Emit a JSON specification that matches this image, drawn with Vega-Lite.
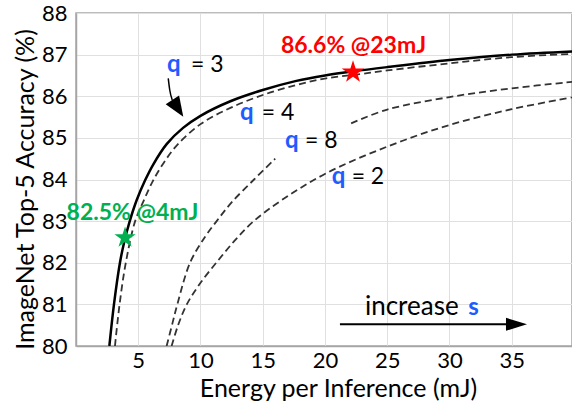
{
  "$schema": "https://vega.github.io/schema/vega-lite/v6.json",
  "width": 496,
  "height": 333,
  "autosize": {"type": "none"},
  "padding": {"left": 76, "top": 13, "right": 0, "bottom": 61},
  "background": "white",
  "config": {
    "font": "Lato",
    "view": {"stroke": "#a6a6a6", "strokeWidth": 1.5},
    "axis": {
      "labelFont": "Lato", "titleFont": "Lato", "labelColor": "#000", "titleColor": "#000",
      "gridColor": "#e0e0e0", "gridWidth": 1, "domainColor": "#a6a6a6", "domainWidth": 1.5,
      "ticks": false, "labelFontSize": 22, "titleFontSize": 25, "titleFontWeight": "normal"
    }
  },
  "datasets": {
    "curves": [
      {"q": "3", "seg": "a", "x": 2.68, "y": 80}, {"q": "3", "seg": "a", "x": 3.05, "y": 81}, {"q": "3", "seg": "a", "x": 3.53, "y": 82},
      {"q": "3", "seg": "a", "x": 3.85, "y": 82.47}, {"q": "3", "seg": "a", "x": 4.3, "y": 82.98}, {"q": "3", "seg": "a", "x": 4.87, "y": 83.5},
      {"q": "3", "seg": "a", "x": 5.55, "y": 83.98}, {"q": "3", "seg": "a", "x": 6.2, "y": 84.36}, {"q": "3", "seg": "a", "x": 7.28, "y": 84.85},
      {"q": "3", "seg": "a", "x": 8.6, "y": 85.24}, {"q": "3", "seg": "a", "x": 10, "y": 85.53}, {"q": "3", "seg": "a", "x": 12.4, "y": 85.88},
      {"q": "3", "seg": "a", "x": 15, "y": 86.15}, {"q": "3", "seg": "a", "x": 17.7, "y": 86.37}, {"q": "3", "seg": "a", "x": 20, "y": 86.5},
      {"q": "3", "seg": "a", "x": 22.3, "y": 86.6}, {"q": "3", "seg": "a", "x": 25, "y": 86.7}, {"q": "3", "seg": "a", "x": 30, "y": 86.87},
      {"q": "3", "seg": "a", "x": 35, "y": 87.0}, {"q": "3", "seg": "a", "x": 40, "y": 87.08},
      {"q": "4", "seg": "a", "x": 3.13, "y": 80}, {"q": "4", "seg": "a", "x": 3.5, "y": 81}, {"q": "4", "seg": "a", "x": 4.0, "y": 82},
      {"q": "4", "seg": "a", "x": 4.75, "y": 83}, {"q": "4", "seg": "a", "x": 5.45, "y": 83.5}, {"q": "4", "seg": "a", "x": 6.15, "y": 83.95},
      {"q": "4", "seg": "a", "x": 7.0, "y": 84.38}, {"q": "4", "seg": "a", "x": 8.1, "y": 84.82}, {"q": "4", "seg": "a", "x": 10, "y": 85.33},
      {"q": "4", "seg": "a", "x": 12.4, "y": 85.72}, {"q": "4", "seg": "a", "x": 15, "y": 86.03}, {"q": "4", "seg": "a", "x": 17.7, "y": 86.27},
      {"q": "4", "seg": "a", "x": 20.1, "y": 86.43}, {"q": "4", "seg": "a", "x": 22.8, "y": 86.53}, {"q": "4", "seg": "a", "x": 25, "y": 86.62},
      {"q": "4", "seg": "a", "x": 30, "y": 86.79}, {"q": "4", "seg": "a", "x": 35, "y": 86.94}, {"q": "4", "seg": "a", "x": 40, "y": 87.02},
      {"q": "8", "seg": "a", "x": 7.28, "y": 80}, {"q": "8", "seg": "a", "x": 7.75, "y": 80.55}, {"q": "8", "seg": "a", "x": 8.14, "y": 81},
      {"q": "8", "seg": "a", "x": 9.16, "y": 82}, {"q": "8", "seg": "a", "x": 10.36, "y": 82.62}, {"q": "8", "seg": "a", "x": 11.3, "y": 83},
      {"q": "8", "seg": "a", "x": 12.5, "y": 83.45}, {"q": "8", "seg": "a", "x": 14.3, "y": 84}, {"q": "8", "seg": "a", "x": 16.0, "y": 84.5},
      {"q": "8", "seg": "b", "x": 22.1, "y": 85.35}, {"q": "8", "seg": "b", "x": 25, "y": 85.68}, {"q": "8", "seg": "b", "x": 30, "y": 85.98},
      {"q": "8", "seg": "b", "x": 35, "y": 86.19}, {"q": "8", "seg": "b", "x": 40, "y": 86.35},
      {"q": "2", "seg": "a", "x": 7.68, "y": 80}, {"q": "2", "seg": "a", "x": 8.2, "y": 80.5}, {"q": "2", "seg": "a", "x": 8.9, "y": 81},
      {"q": "2", "seg": "a", "x": 9.96, "y": 81.5}, {"q": "2", "seg": "a", "x": 11.4, "y": 82.05}, {"q": "2", "seg": "a", "x": 12.8, "y": 82.55},
      {"q": "2", "seg": "a", "x": 14.2, "y": 82.98}, {"q": "2", "seg": "a", "x": 16.5, "y": 83.5}, {"q": "2", "seg": "a", "x": 20.1, "y": 84.15},
      {"q": "2", "seg": "a", "x": 25, "y": 84.79}, {"q": "2", "seg": "a", "x": 30, "y": 85.31}, {"q": "2", "seg": "a", "x": 35, "y": 85.69},
      {"q": "2", "seg": "a", "x": 40, "y": 85.98}
    ],
    "stars": [
      {"name": "best", "x": 22.25, "y": 86.58},
      {"name": "low", "x": 3.94, "y": 82.6}
    ],
    "labels": [
      {"role": "q", "x": 7.31, "y": 86.58, "text": "q"},
      {"role": "q", "x": 13.17, "y": 85.44, "text": "q"},
      {"role": "q", "x": 16.79, "y": 84.76, "text": "q"},
      {"role": "q", "x": 20.54, "y": 83.89, "text": "q"},
      {"role": "eq", "x": 9.24, "y": 86.58, "text": "= 3"},
      {"role": "eq", "x": 14.92, "y": 85.44, "text": "= 4"},
      {"role": "eq", "x": 18.39, "y": 84.76, "text": "= 8"},
      {"role": "eq", "x": 22.14, "y": 83.89, "text": "= 2"},
      {"role": "inc", "x": 23.21, "y": 80.74, "text": "increase"},
      {"role": "s", "x": 31.5, "y": 80.74, "text": "s"},
      {"role": "best", "x": 22.29, "y": 87.04, "text": "86.6% @23mJ"},
      {"role": "low", "x": 4.54, "y": 83.03, "text": "82.5% @4mJ"}
    ],
    "arrowQ": [
      {"x": 7.41, "y": 86.43}, {"x": 7.53, "y": 86.15}, {"x": 7.73, "y": 85.91}
    ],
    "arrowS": [
      {"x": 21.2, "y": 80.52}, {"x": 34.6, "y": 80.52}
    ],
    "headQ": [{"x": 8.18, "y": 85.71}],
    "headS": [{"x": 35.38, "y": 80.52}]
  },
  "layer": [
    {
      "data": {"name": "curves"},
      "transform": [{"filter": "datum.q == '3'"}],
      "mark": {"type": "line", "color": "#000", "strokeWidth": 2.5, "clip": true, "interpolate": "catmull-rom"},
      "encoding": {
        "x": {"field": "x", "type": "quantitative", "scale": {"domain": [0, 39.84], "nice": false, "zero": false},
          "axis": {"title": "Energy per Inference (mJ)", "values": [5, 10, 15, 20, 25, 30, 35], "labelPadding": 4,
            "titleX": 262, "titleY": 50.5, "titleBaseline": "alphabetic", "titleAlign": "center"}},
        "y": {"field": "y", "type": "quantitative", "scale": {"domain": [80, 88], "nice": false, "zero": false},
          "axis": {"title": "ImageNet Top-5 Accuracy (%)", "values": [80, 81, 82, 83, 84, 85, 86, 87, 88], "labelPadding": 9,
            "titleX": -43, "titleY": 176, "titleAngle": -90, "titleBaseline": "alphabetic", "titleAlign": "center"}}
      }
    },
    {
      "data": {"name": "curves"},
      "transform": [{"filter": "datum.q != '3'"}],
      "mark": {"type": "line", "color": "#333", "strokeWidth": 1.8, "strokeDash": [7, 4], "clip": true, "interpolate": "catmull-rom"},
      "encoding": {
        "x": {"field": "x", "type": "quantitative"},
        "y": {"field": "y", "type": "quantitative"},
        "detail": [{"field": "q", "type": "nominal"}, {"field": "seg", "type": "nominal"}]
      }
    },
    {
      "data": {"name": "arrowQ"},
      "mark": {"type": "line", "color": "#000", "strokeWidth": 1.5, "interpolate": "monotone"},
      "encoding": {"x": {"field": "x", "type": "quantitative"}, "y": {"field": "y", "type": "quantitative"}}
    },
    {
      "data": {"name": "headQ"},
      "mark": {"type": "point", "shape": "M-1,-0.8L1,0L-1,0.8Z", "filled": true, "color": "#000", "size": 400, "angle": 57, "opacity": 1},
      "encoding": {"x": {"field": "x", "type": "quantitative"}, "y": {"field": "y", "type": "quantitative"}}
    },
    {
      "data": {"name": "arrowS"},
      "mark": {"type": "line", "color": "#000", "strokeWidth": 2},
      "encoding": {"x": {"field": "x", "type": "quantitative"}, "y": {"field": "y", "type": "quantitative"}}
    },
    {
      "data": {"name": "headS"},
      "mark": {"type": "point", "shape": "M-1,-0.62L1,0L-1,0.62Z", "filled": true, "color": "#000", "size": 441, "opacity": 1},
      "encoding": {"x": {"field": "x", "type": "quantitative"}, "y": {"field": "y", "type": "quantitative"}}
    },
    {
      "data": {"name": "stars"},
      "transform": [{"filter": "datum.name == 'best'"}],
      "mark": {"type": "point", "shape": "M0,-1L0.2245,-0.309L0.951,-0.309L0.363,0.118L0.588,0.809L0,0.382L-0.588,0.809L-0.363,0.118L-0.951,-0.309L-0.2245,-0.309Z", "filled": true, "color": "#ff0000", "size": 560, "opacity": 1},
      "encoding": {"x": {"field": "x", "type": "quantitative"}, "y": {"field": "y", "type": "quantitative"}}
    },
    {
      "data": {"name": "stars"},
      "transform": [{"filter": "datum.name == 'low'"}],
      "mark": {"type": "point", "shape": "M0,-1L0.2245,-0.309L0.951,-0.309L0.363,0.118L0.588,0.809L0,0.382L-0.588,0.809L-0.363,0.118L-0.951,-0.309L-0.2245,-0.309Z", "filled": true, "color": "#00b050", "size": 500, "opacity": 1},
      "encoding": {"x": {"field": "x", "type": "quantitative"}, "y": {"field": "y", "type": "quantitative"}}
    },
    {
      "data": {"name": "labels"},
      "transform": [{"filter": "datum.role == 'q'"}],
      "mark": {"type": "text", "font": "Lato", "fontSize": 24, "fontWeight": "bold", "color": "#1f5cff", "align": "left", "baseline": "alphabetic"},
      "encoding": {"x": {"field": "x", "type": "quantitative"}, "y": {"field": "y", "type": "quantitative"}, "text": {"field": "text"}}
    },
    {
      "data": {"name": "labels"},
      "transform": [{"filter": "datum.role == 'eq'"}],
      "mark": {"type": "text", "font": "Lato", "fontSize": 23, "color": "#000", "align": "left", "baseline": "alphabetic"},
      "encoding": {"x": {"field": "x", "type": "quantitative"}, "y": {"field": "y", "type": "quantitative"}, "text": {"field": "text"}}
    },
    {
      "data": {"name": "labels"},
      "transform": [{"filter": "datum.role == 'inc'"}],
      "mark": {"type": "text", "font": "Lato", "fontSize": 26, "color": "#000", "align": "left", "baseline": "alphabetic"},
      "encoding": {"x": {"field": "x", "type": "quantitative"}, "y": {"field": "y", "type": "quantitative"}, "text": {"field": "text"}}
    },
    {
      "data": {"name": "labels"},
      "transform": [{"filter": "datum.role == 's'"}],
      "mark": {"type": "text", "font": "Lato", "fontSize": 24, "fontWeight": "bold", "color": "#1f5cff", "align": "left", "baseline": "alphabetic"},
      "encoding": {"x": {"field": "x", "type": "quantitative"}, "y": {"field": "y", "type": "quantitative"}, "text": {"field": "text"}}
    },
    {
      "data": {"name": "labels"},
      "transform": [{"filter": "datum.role == 'best'"}],
      "mark": {"type": "text", "font": "Lato", "fontSize": 23, "fontWeight": "bold", "color": "#ff0000", "align": "center", "baseline": "alphabetic"},
      "encoding": {"x": {"field": "x", "type": "quantitative"}, "y": {"field": "y", "type": "quantitative"}, "text": {"field": "text"}}
    },
    {
      "data": {"name": "labels"},
      "transform": [{"filter": "datum.role == 'low'"}],
      "mark": {"type": "text", "font": "Lato", "fontSize": 23, "fontWeight": "bold", "color": "#00b050", "align": "center", "baseline": "alphabetic"},
      "encoding": {"x": {"field": "x", "type": "quantitative"}, "y": {"field": "y", "type": "quantitative"}, "text": {"field": "text"}}
    }
  ]
}
